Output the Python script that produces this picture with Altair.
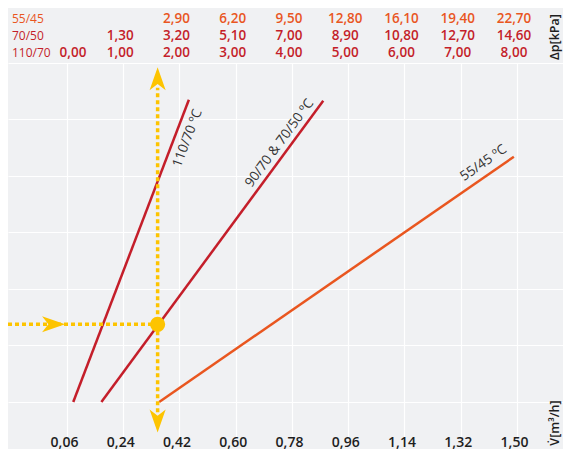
import altair as alt
import pandas as pd

# ---- data ----
flow_ticks = [0.06, 0.24, 0.42, 0.60, 0.78, 0.96, 1.14, 1.32, 1.50]
grid_levels = [0, 1, 2, 3, 4, 5, 6]

dp_55_45 = [None, None, 2.90, 6.20, 9.50, 12.80, 16.10, 19.40, 22.70]
dp_70_50 = [None, 1.30, 3.20, 5.10, 7.00, 8.90, 10.80, 12.70, 14.60]
dp_110_70 = [0.00, 1.00, 2.00, 3.00, 4.00, 5.00, 6.00, 7.00, 8.00]

curve_names = ["110/70 ºC", "90/70 & 70/50 ºC", "55/45 ºC"]
curve_flow_start = [0.08, 0.17, 0.355]
curve_flow_end = [0.45, 0.88, 1.49]
curve_level_start = [0.0, 0.0, 0.0]
curve_level_end = [5.35, 5.33, 4.34]

label_flow = [0.446, 0.740, 1.393]
label_level = [4.67, 4.58, 4.23]
label_angle = [290.8, 306.4, 325.3]

guide_flow = 0.35
guide_level = 1.375
guide_level_top = 5.56
guide_level_bottom = -0.18
arrow_up_level = 5.72
arrow_down_level = -0.336
arrow_right_flow = 0.017

# ---- styling ----
BG = "#f0f1f3"
RED = "#c41e2a"
ORANGE = "#e9561f"
YELLOW = "#fdc400"
DARK = "#1e1e1e"
FONT = "Open Sans"

PLOT_W, PLOT_H = 555, 374
X_MIN = -0.1288
X_MAX = X_MIN + PLOT_W / 312.5
Y_MIN, Y_MAX = -0.6195, 6.0

xscale = alt.Scale(domain=[X_MIN, X_MAX], nice=False, zero=False)
yscale = alt.Scale(domain=[Y_MIN, Y_MAX], nice=False, zero=False)
xaxis = alt.Axis(values=flow_ticks, grid=True, gridColor="white", gridWidth=1.2,
                 domain=False, ticks=False, title=None, labelOverlap=False,
                 labelExpr="replace(format(datum.value, '.2f'), '.', ',')",
                 labelFont=FONT, labelFontSize=14, labelFontWeight=600,
                 labelColor=DARK, labelPadding=9, labelBaseline="alphabetic",
                 labelOffset=-3, labelFlush=False)
yaxis = alt.Axis(values=grid_levels, grid=True, gridColor="white", gridWidth=1.2,
                 domain=False, ticks=False, labels=False, title=None)


def X(field="flow"):
    return alt.X(field, type="quantitative", scale=xscale, axis=xaxis)


def Y(field="level"):
    return alt.Y(field, type="quantitative", scale=yscale, axis=yaxis)


# curves
curves = pd.DataFrame({
    "name": curve_names,
    "flow": curve_flow_start,
    "flow_end": curve_flow_end,
    "level": curve_level_start,
    "level_end": curve_level_end,
})
curve_layer = alt.Chart(curves).mark_rule(strokeWidth=2.5).encode(
    x=X(), x2="flow_end", y=Y(), y2="level_end",
    color=alt.Color("name:N", scale=alt.Scale(domain=curve_names, range=[RED, RED, ORANGE]), legend=None),
)

labels = pd.DataFrame({"name": curve_names, "flow": label_flow, "level": label_level})
label_layers = [
    alt.Chart(labels[labels["name"] == n]).mark_text(
        font=FONT, fontSize=13.5, color="#333333", angle=a, align="center", baseline="middle"
    ).encode(x=X(), y=Y(), text="name:N")
    for n, a in zip(curve_names, label_angle)
]

# yellow guide
vguide = pd.DataFrame({"flow": [guide_flow], "level": [guide_level_bottom], "level_end": [guide_level_top]})
vguide_layer = alt.Chart(vguide).mark_rule(color=YELLOW, strokeWidth=3.5, strokeDash=[4, 3]).encode(
    x=X(), y=Y(), y2="level_end")
hguide = pd.DataFrame({"flow": [X_MIN], "flow_end": [guide_flow], "level": [guide_level]})
hguide_layer = alt.Chart(hguide).mark_rule(color=YELLOW, strokeWidth=3.5, strokeDash=[4, 3]).encode(
    x=X(), x2="flow_end", y=Y())

ARROW = "M0,-1L0.7,1L0,0.45L-0.7,1Z"
arrows = [
    (guide_flow, arrow_up_level, 0),
    (guide_flow, arrow_down_level, 180),
    (arrow_right_flow, guide_level, 90),
]
arrow_layers = [
    alt.Chart(pd.DataFrame({"flow": [fx], "level": [ly]})).mark_point(
        shape=ARROW, filled=True, size=530, angle=ang, color=YELLOW, opacity=1, strokeWidth=0
    ).encode(x=X(), y=Y())
    for fx, ly, ang in arrows
]
dot_layer = alt.Chart(pd.DataFrame({"flow": [guide_flow], "level": [guide_level]})).mark_circle(
    size=230, color=YELLOW, opacity=1).encode(x=X(), y=Y())

# top table
def fmt(v):
    return f"{v:.2f}".replace(".", ",")

rows = [("55/45", dp_55_45, ORANGE, -44), ("70/50", dp_70_50, RED, -27), ("110/70", dp_110_70, RED, -10)]
table_layers = []
for name, vals, col, ypx in rows:
    df = pd.DataFrame({"flow": flow_ticks, "dp": vals}).dropna().reset_index(drop=True)
    df["txt"] = df["dp"].map(fmt)
    first = df.iloc[:1]
    rest = df.iloc[1:]
    first_dx = 6 if name == "110/70" else -3
    for part, dxv in [(first, first_dx), (rest, -3)]:
        table_layers.append(
            alt.Chart(part).mark_text(font=FONT, fontSize=13.5, fontWeight=600, color=col,
                                      align="center", baseline="middle", dx=dxv)
            .encode(x=X(), y=alt.value(ypx), text="txt:N"))
    table_layers.append(
        alt.Chart(pd.DataFrame({"t": [name]})).mark_text(font=FONT, fontSize=12, color=col,
                                                          align="left", baseline="middle")
        .encode(x=alt.value(4), y=alt.value(ypx), text="t:N"))

side_layers = [
    alt.Chart(pd.DataFrame({"t": [t]})).mark_text(font=FONT, fontSize=12.5, fontWeight=600, color=DARK,
                                                   angle=270, align="center", baseline="middle")
    .encode(x=alt.value(547), y=alt.value(yp), text="t:N")
    for t, yp in [("Δp[kPa]", -26), ("V\u0307[m³/h]", 360)]
]

chart = alt.layer(
    curve_layer, vguide_layer, hguide_layer, *arrow_layers, dot_layer,
    *label_layers, *table_layers, *side_layers
).properties(
    width=PLOT_W, height=PLOT_H,
    padding={"left": 0, "top": 55, "right": 0, "bottom": 12},
    autosize=alt.AutoSizeParams(type="none"),
).configure(background=BG).configure_view(stroke=None)

chart.save("out.html", embed_options={"renderer": "svg", "actions": False})
